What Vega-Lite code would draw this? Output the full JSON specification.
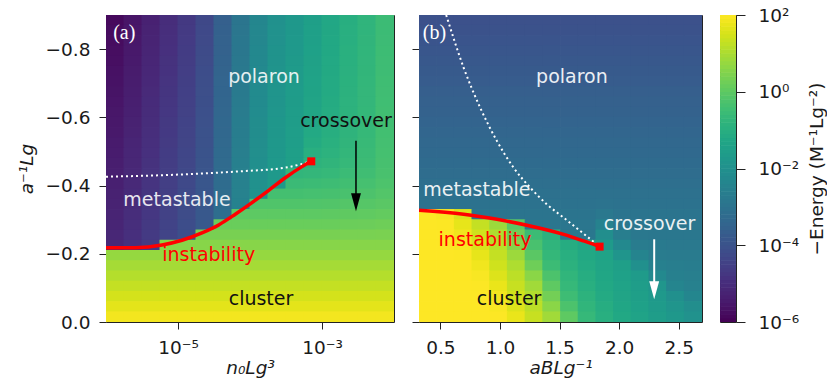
{
"$schema":"https://vega.github.io/schema/vega-lite/v6.json",
"background":"white",
"autosize":{"type":"pad"},
"padding":{"left":16,"top":5,"right":0,"bottom":0},
"config":{"font":"DejaVu Sans","view":{"stroke":"#222","strokeWidth":1},
"axis":{"labelFont":"DejaVu Sans","labelFontSize":18.5,"labelColor":"#1a1a1a","titleFont":"DejaVu Sans","titleFontSize":18.5,"titleFontWeight":"normal","titleColor":"#1a1a1a","tickColor":"#222","tickSize":7,"tickWidth":1,"domain":false,"grid":false,"labelPadding":9},
"axisX":{"labelPadding":9,"titlePadding":2},
"axisY":{"titlePadding":9}},
"datasets":{
"ha":[
{"x":-5.875,"y":-0.885,"e":-5.83},{"x":-5.625,"y":-0.885,"e":-5.58},{"x":-5.375,"y":-0.885,"e":-5.29},{"x":-5.125,"y":-0.885,"e":-4.99},{"x":-4.875,"y":-0.885,"e":-4.69},{"x":-4.625,"y":-0.885,"e":-4.29},{"x":-4.375,"y":-0.885,"e":-3.59},{"x":-4.125,"y":-0.885,"e":-2.89},{"x":-3.875,"y":-0.885,"e":-2.34},{"x":-3.625,"y":-0.885,"e":-1.99},{"x":-3.375,"y":-0.885,"e":-1.74},{"x":-3.125,"y":-0.885,"e":-1.49},{"x":-2.875,"y":-0.885,"e":-1.24},{"x":-2.625,"y":-0.885,"e":-0.99},{"x":-2.375,"y":-0.885,"e":-0.79},{"x":-2.125,"y":-0.885,"e":-0.54},
{"x":-5.875,"y":-0.855,"e":-5.8},{"x":-5.625,"y":-0.855,"e":-5.55},{"x":-5.375,"y":-0.855,"e":-5.26},{"x":-5.125,"y":-0.855,"e":-4.96},{"x":-4.875,"y":-0.855,"e":-4.66},{"x":-4.625,"y":-0.855,"e":-4.26},{"x":-4.375,"y":-0.855,"e":-3.56},{"x":-4.125,"y":-0.855,"e":-2.87},{"x":-3.875,"y":-0.855,"e":-2.32},{"x":-3.625,"y":-0.855,"e":-1.97},{"x":-3.375,"y":-0.855,"e":-1.72},{"x":-3.125,"y":-0.855,"e":-1.47},{"x":-2.875,"y":-0.855,"e":-1.23},{"x":-2.625,"y":-0.855,"e":-0.98},{"x":-2.375,"y":-0.855,"e":-0.78},{"x":-2.125,"y":-0.855,"e":-0.53},
{"x":-5.875,"y":-0.825,"e":-5.77},{"x":-5.625,"y":-0.825,"e":-5.52},{"x":-5.375,"y":-0.825,"e":-5.23},{"x":-5.125,"y":-0.825,"e":-4.93},{"x":-4.875,"y":-0.825,"e":-4.63},{"x":-4.625,"y":-0.825,"e":-4.24},{"x":-4.375,"y":-0.825,"e":-3.54},{"x":-4.125,"y":-0.825,"e":-2.84},{"x":-3.875,"y":-0.825,"e":-2.3},{"x":-3.625,"y":-0.825,"e":-1.95},{"x":-3.375,"y":-0.825,"e":-1.7},{"x":-3.125,"y":-0.825,"e":-1.46},{"x":-2.875,"y":-0.825,"e":-1.21},{"x":-2.625,"y":-0.825,"e":-0.96},{"x":-2.375,"y":-0.825,"e":-0.77},{"x":-2.125,"y":-0.825,"e":-0.52},
{"x":-5.875,"y":-0.795,"e":-5.74},{"x":-5.625,"y":-0.795,"e":-5.49},{"x":-5.375,"y":-0.795,"e":-5.2},{"x":-5.125,"y":-0.795,"e":-4.9},{"x":-4.875,"y":-0.795,"e":-4.61},{"x":-4.625,"y":-0.795,"e":-4.21},{"x":-4.375,"y":-0.795,"e":-3.52},{"x":-4.125,"y":-0.795,"e":-2.82},{"x":-3.875,"y":-0.795,"e":-2.28},{"x":-3.625,"y":-0.795,"e":-1.93},{"x":-3.375,"y":-0.795,"e":-1.69},{"x":-3.125,"y":-0.795,"e":-1.44},{"x":-2.875,"y":-0.795,"e":-1.2},{"x":-2.625,"y":-0.795,"e":-0.95},{"x":-2.375,"y":-0.795,"e":-0.76},{"x":-2.125,"y":-0.795,"e":-0.51},
{"x":-5.875,"y":-0.765,"e":-5.7},{"x":-5.625,"y":-0.765,"e":-5.46},{"x":-5.375,"y":-0.765,"e":-5.17},{"x":-5.125,"y":-0.765,"e":-4.87},{"x":-4.875,"y":-0.765,"e":-4.58},{"x":-4.625,"y":-0.765,"e":-4.19},{"x":-4.375,"y":-0.765,"e":-3.49},{"x":-4.125,"y":-0.765,"e":-2.8},{"x":-3.875,"y":-0.765,"e":-2.26},{"x":-3.625,"y":-0.765,"e":-1.91},{"x":-3.375,"y":-0.765,"e":-1.67},{"x":-3.125,"y":-0.765,"e":-1.42},{"x":-2.875,"y":-0.765,"e":-1.18},{"x":-2.625,"y":-0.765,"e":-0.94},{"x":-2.375,"y":-0.765,"e":-0.74},{"x":-2.125,"y":-0.765,"e":-0.5},
{"x":-5.875,"y":-0.735,"e":-5.67},{"x":-5.625,"y":-0.735,"e":-5.43},{"x":-5.375,"y":-0.735,"e":-5.14},{"x":-5.125,"y":-0.735,"e":-4.85},{"x":-4.875,"y":-0.735,"e":-4.55},{"x":-4.625,"y":-0.735,"e":-4.16},{"x":-4.375,"y":-0.735,"e":-3.47},{"x":-4.125,"y":-0.735,"e":-2.78},{"x":-3.875,"y":-0.735,"e":-2.23},{"x":-3.625,"y":-0.735,"e":-1.89},{"x":-3.375,"y":-0.735,"e":-1.65},{"x":-3.125,"y":-0.735,"e":-1.41},{"x":-2.875,"y":-0.735,"e":-1.16},{"x":-2.625,"y":-0.735,"e":-0.92},{"x":-2.375,"y":-0.735,"e":-0.73},{"x":-2.125,"y":-0.735,"e":-0.49},
{"x":-5.875,"y":-0.705,"e":-5.64},{"x":-5.625,"y":-0.705,"e":-5.4},{"x":-5.375,"y":-0.705,"e":-5.11},{"x":-5.125,"y":-0.705,"e":-4.82},{"x":-4.875,"y":-0.705,"e":-4.53},{"x":-4.625,"y":-0.705,"e":-4.14},{"x":-4.375,"y":-0.705,"e":-3.44},{"x":-4.125,"y":-0.705,"e":-2.75},{"x":-3.875,"y":-0.705,"e":-2.21},{"x":-3.625,"y":-0.705,"e":-1.87},{"x":-3.375,"y":-0.705,"e":-1.63},{"x":-3.125,"y":-0.705,"e":-1.38},{"x":-2.875,"y":-0.705,"e":-1.14},{"x":-2.625,"y":-0.705,"e":-0.91},{"x":-2.375,"y":-0.705,"e":-0.72},{"x":-2.125,"y":-0.705,"e":-0.48},
{"x":-5.875,"y":-0.675,"e":-5.61},{"x":-5.625,"y":-0.675,"e":-5.37},{"x":-5.375,"y":-0.675,"e":-5.08},{"x":-5.125,"y":-0.675,"e":-4.79},{"x":-4.875,"y":-0.675,"e":-4.5},{"x":-4.625,"y":-0.675,"e":-4.11},{"x":-4.375,"y":-0.675,"e":-3.42},{"x":-4.125,"y":-0.675,"e":-2.73},{"x":-3.875,"y":-0.675,"e":-2.19},{"x":-3.625,"y":-0.675,"e":-1.85},{"x":-3.375,"y":-0.675,"e":-1.61},{"x":-3.125,"y":-0.675,"e":-1.36},{"x":-2.875,"y":-0.675,"e":-1.12},{"x":-2.625,"y":-0.675,"e":-0.89},{"x":-2.375,"y":-0.675,"e":-0.7},{"x":-2.125,"y":-0.675,"e":-0.46},
{"x":-5.875,"y":-0.645,"e":-5.57},{"x":-5.625,"y":-0.645,"e":-5.34},{"x":-5.375,"y":-0.645,"e":-5.05},{"x":-5.125,"y":-0.645,"e":-4.76},{"x":-4.875,"y":-0.645,"e":-4.47},{"x":-4.625,"y":-0.645,"e":-4.09},{"x":-4.375,"y":-0.645,"e":-3.4},{"x":-4.125,"y":-0.645,"e":-2.71},{"x":-3.875,"y":-0.645,"e":-2.17},{"x":-3.625,"y":-0.645,"e":-1.83},{"x":-3.375,"y":-0.645,"e":-1.59},{"x":-3.125,"y":-0.645,"e":-1.33},{"x":-2.875,"y":-0.645,"e":-1.1},{"x":-2.625,"y":-0.645,"e":-0.87},{"x":-2.375,"y":-0.645,"e":-0.69},{"x":-2.125,"y":-0.645,"e":-0.45},
{"x":-5.875,"y":-0.615,"e":-5.54},{"x":-5.625,"y":-0.615,"e":-5.31},{"x":-5.375,"y":-0.615,"e":-5.02},{"x":-5.125,"y":-0.615,"e":-4.73},{"x":-4.875,"y":-0.615,"e":-4.45},{"x":-4.625,"y":-0.615,"e":-4.06},{"x":-4.375,"y":-0.615,"e":-3.37},{"x":-4.125,"y":-0.615,"e":-2.69},{"x":-3.875,"y":-0.615,"e":-2.15},{"x":-3.625,"y":-0.615,"e":-1.81},{"x":-3.375,"y":-0.615,"e":-1.58},{"x":-3.125,"y":-0.615,"e":-1.29},{"x":-2.875,"y":-0.615,"e":-1.08},{"x":-2.625,"y":-0.615,"e":-0.86},{"x":-2.375,"y":-0.615,"e":-0.68},{"x":-2.125,"y":-0.615,"e":-0.44},
{"x":-5.875,"y":-0.585,"e":-5.51},{"x":-5.625,"y":-0.585,"e":-5.28},{"x":-5.375,"y":-0.585,"e":-4.99},{"x":-5.125,"y":-0.585,"e":-4.7},{"x":-4.875,"y":-0.585,"e":-4.42},{"x":-4.625,"y":-0.585,"e":-4.04},{"x":-4.375,"y":-0.585,"e":-3.35},{"x":-4.125,"y":-0.585,"e":-2.66},{"x":-3.875,"y":-0.585,"e":-2.13},{"x":-3.625,"y":-0.585,"e":-1.79},{"x":-3.375,"y":-0.585,"e":-1.56},{"x":-3.125,"y":-0.585,"e":-1.24},{"x":-2.875,"y":-0.585,"e":-1.05},{"x":-2.625,"y":-0.585,"e":-0.83},{"x":-2.375,"y":-0.585,"e":-0.66},{"x":-2.125,"y":-0.585,"e":-0.43},
{"x":-5.875,"y":-0.555,"e":-5.48},{"x":-5.625,"y":-0.555,"e":-5.25},{"x":-5.375,"y":-0.555,"e":-4.96},{"x":-5.125,"y":-0.555,"e":-4.68},{"x":-4.875,"y":-0.555,"e":-4.39},{"x":-4.625,"y":-0.555,"e":-4.01},{"x":-4.375,"y":-0.555,"e":-3.32},{"x":-4.125,"y":-0.555,"e":-2.64},{"x":-3.875,"y":-0.555,"e":-2.11},{"x":-3.625,"y":-0.555,"e":-1.77},{"x":-3.375,"y":-0.555,"e":-1.54},{"x":-3.125,"y":-0.555,"e":-1.18},{"x":-2.875,"y":-0.555,"e":-1.0},{"x":-2.625,"y":-0.555,"e":-0.81},{"x":-2.375,"y":-0.555,"e":-0.64},{"x":-2.125,"y":-0.555,"e":-0.41},
{"x":-5.875,"y":-0.525,"e":-5.45},{"x":-5.625,"y":-0.525,"e":-5.21},{"x":-5.375,"y":-0.525,"e":-4.93},{"x":-5.125,"y":-0.525,"e":-4.65},{"x":-4.875,"y":-0.525,"e":-4.37},{"x":-4.625,"y":-0.525,"e":-3.99},{"x":-4.375,"y":-0.525,"e":-3.3},{"x":-4.125,"y":-0.525,"e":-2.62},{"x":-3.875,"y":-0.525,"e":-2.09},{"x":-3.625,"y":-0.525,"e":-1.75},{"x":-3.375,"y":-0.525,"e":-1.52},{"x":-3.125,"y":-0.525,"e":-1.09},{"x":-2.875,"y":-0.525,"e":-0.95},{"x":-2.625,"y":-0.525,"e":-0.77},{"x":-2.375,"y":-0.525,"e":-0.61},{"x":-2.125,"y":-0.525,"e":-0.39},
{"x":-5.875,"y":-0.495,"e":-5.41},{"x":-5.625,"y":-0.495,"e":-5.18},{"x":-5.375,"y":-0.495,"e":-4.9},{"x":-5.125,"y":-0.495,"e":-4.62},{"x":-4.875,"y":-0.495,"e":-4.34},{"x":-4.625,"y":-0.495,"e":-3.96},{"x":-4.375,"y":-0.495,"e":-3.28},{"x":-4.125,"y":-0.495,"e":-2.6},{"x":-3.875,"y":-0.495,"e":-2.07},{"x":-3.625,"y":-0.495,"e":-1.73},{"x":-3.375,"y":-0.495,"e":-1.5},{"x":-3.125,"y":-0.495,"e":-0.98},{"x":-2.875,"y":-0.495,"e":-0.87},{"x":-2.625,"y":-0.495,"e":-0.72},{"x":-2.375,"y":-0.495,"e":-0.58},{"x":-2.125,"y":-0.495,"e":-0.37},
{"x":-5.875,"y":-0.465,"e":-5.38},{"x":-5.625,"y":-0.465,"e":-5.15},{"x":-5.375,"y":-0.465,"e":-4.87},{"x":-5.125,"y":-0.465,"e":-4.59},{"x":-4.875,"y":-0.465,"e":-4.31},{"x":-4.625,"y":-0.465,"e":-3.94},{"x":-4.375,"y":-0.465,"e":-3.25},{"x":-4.125,"y":-0.465,"e":-2.57},{"x":-3.875,"y":-0.465,"e":-2.05},{"x":-3.625,"y":-0.465,"e":-1.71},{"x":-3.375,"y":-0.465,"e":-1.49},{"x":-3.125,"y":-0.465,"e":-0.84},{"x":-2.875,"y":-0.465,"e":-0.77},{"x":-2.625,"y":-0.465,"e":-0.65},{"x":-2.375,"y":-0.465,"e":-0.53},{"x":-2.125,"y":-0.465,"e":-0.34},
{"x":-5.875,"y":-0.435,"e":-5.35},{"x":-5.625,"y":-0.435,"e":-5.12},{"x":-5.375,"y":-0.435,"e":-4.84},{"x":-5.125,"y":-0.435,"e":-4.56},{"x":-4.875,"y":-0.435,"e":-4.29},{"x":-4.625,"y":-0.435,"e":-3.91},{"x":-4.375,"y":-0.435,"e":-3.23},{"x":-4.125,"y":-0.435,"e":-2.55},{"x":-3.875,"y":-0.435,"e":-2.02},{"x":-3.625,"y":-0.435,"e":-1.69},{"x":-3.375,"y":-0.435,"e":-0.75},{"x":-3.125,"y":-0.435,"e":-0.69},{"x":-2.875,"y":-0.435,"e":-0.65},{"x":-2.625,"y":-0.435,"e":-0.55},{"x":-2.375,"y":-0.435,"e":-0.46},{"x":-2.125,"y":-0.435,"e":-0.3},
{"x":-5.875,"y":-0.405,"e":-5.32},{"x":-5.625,"y":-0.405,"e":-5.09},{"x":-5.375,"y":-0.405,"e":-4.82},{"x":-5.125,"y":-0.405,"e":-4.54},{"x":-4.875,"y":-0.405,"e":-4.26},{"x":-4.625,"y":-0.405,"e":-3.88},{"x":-4.375,"y":-0.405,"e":-3.2},{"x":-4.125,"y":-0.405,"e":-2.53},{"x":-3.875,"y":-0.405,"e":-2.0},{"x":-3.625,"y":-0.405,"e":-1.67},{"x":-3.375,"y":-0.405,"e":-0.56},{"x":-3.125,"y":-0.405,"e":-0.53},{"x":-2.875,"y":-0.405,"e":-0.5},{"x":-2.625,"y":-0.405,"e":-0.44},{"x":-2.375,"y":-0.405,"e":-0.36},{"x":-2.125,"y":-0.405,"e":-0.24},
{"x":-5.875,"y":-0.375,"e":-5.28},{"x":-5.625,"y":-0.375,"e":-5.06},{"x":-5.375,"y":-0.375,"e":-4.79},{"x":-5.125,"y":-0.375,"e":-4.51},{"x":-4.875,"y":-0.375,"e":-4.23},{"x":-4.625,"y":-0.375,"e":-3.86},{"x":-4.375,"y":-0.375,"e":-3.18},{"x":-4.125,"y":-0.375,"e":-2.51},{"x":-3.875,"y":-0.375,"e":-1.98},{"x":-3.625,"y":-0.375,"e":-0.38},{"x":-3.375,"y":-0.375,"e":-0.38},{"x":-3.125,"y":-0.375,"e":-0.36},{"x":-2.875,"y":-0.375,"e":-0.34},{"x":-2.625,"y":-0.375,"e":-0.3},{"x":-2.375,"y":-0.375,"e":-0.25},{"x":-2.125,"y":-0.375,"e":-0.15},
{"x":-5.875,"y":-0.345,"e":-5.25},{"x":-5.625,"y":-0.345,"e":-5.03},{"x":-5.375,"y":-0.345,"e":-4.76},{"x":-5.125,"y":-0.345,"e":-4.48},{"x":-4.875,"y":-0.345,"e":-4.21},{"x":-4.625,"y":-0.345,"e":-3.83},{"x":-4.375,"y":-0.345,"e":-3.16},{"x":-4.125,"y":-0.345,"e":-2.48},{"x":-3.875,"y":-0.345,"e":-0.19},{"x":-3.625,"y":-0.345,"e":-0.19},{"x":-3.375,"y":-0.345,"e":-0.19},{"x":-3.125,"y":-0.345,"e":-0.18},{"x":-2.875,"y":-0.345,"e":-0.17},{"x":-2.625,"y":-0.345,"e":-0.14},{"x":-2.375,"y":-0.345,"e":-0.11},{"x":-2.125,"y":-0.345,"e":-0.05},
{"x":-5.875,"y":-0.315,"e":-5.22},{"x":-5.625,"y":-0.315,"e":-5.0},{"x":-5.375,"y":-0.315,"e":-4.73},{"x":-5.125,"y":-0.315,"e":-4.45},{"x":-4.875,"y":-0.315,"e":-4.18},{"x":-4.625,"y":-0.315,"e":-3.81},{"x":-4.375,"y":-0.315,"e":-3.13},{"x":-4.125,"y":-0.315,"e":0.0},{"x":-3.875,"y":-0.315,"e":0.0},{"x":-3.625,"y":-0.315,"e":0.0},{"x":-3.375,"y":-0.315,"e":0.0},{"x":-3.125,"y":-0.315,"e":0.0},{"x":-2.875,"y":-0.315,"e":0.01},{"x":-2.625,"y":-0.315,"e":0.03},{"x":-2.375,"y":-0.315,"e":0.04},{"x":-2.125,"y":-0.315,"e":0.09},
{"x":-5.875,"y":-0.285,"e":-5.19},{"x":-5.625,"y":-0.285,"e":-4.97},{"x":-5.375,"y":-0.285,"e":-4.7},{"x":-5.125,"y":-0.285,"e":-4.42},{"x":-4.875,"y":-0.285,"e":-4.15},{"x":-4.625,"y":-0.285,"e":-3.78},{"x":-4.375,"y":-0.285,"e":0.18},{"x":-4.125,"y":-0.285,"e":0.18},{"x":-3.875,"y":-0.285,"e":0.18},{"x":-3.625,"y":-0.285,"e":0.18},{"x":-3.375,"y":-0.285,"e":0.18},{"x":-3.125,"y":-0.285,"e":0.18},{"x":-2.875,"y":-0.285,"e":0.18},{"x":-2.625,"y":-0.285,"e":0.2},{"x":-2.375,"y":-0.285,"e":0.21},{"x":-2.125,"y":-0.285,"e":0.24},
{"x":-5.875,"y":-0.255,"e":-5.15},{"x":-5.625,"y":-0.255,"e":-4.94},{"x":-5.375,"y":-0.255,"e":-4.67},{"x":-5.125,"y":-0.255,"e":-4.39},{"x":-4.875,"y":-0.255,"e":-4.13},{"x":-4.625,"y":-0.255,"e":0.37},{"x":-4.375,"y":-0.255,"e":0.37},{"x":-4.125,"y":-0.255,"e":0.37},{"x":-3.875,"y":-0.255,"e":0.37},{"x":-3.625,"y":-0.255,"e":0.37},{"x":-3.375,"y":-0.255,"e":0.37},{"x":-3.125,"y":-0.255,"e":0.37},{"x":-2.875,"y":-0.255,"e":0.37},{"x":-2.625,"y":-0.255,"e":0.38},{"x":-2.375,"y":-0.255,"e":0.38},{"x":-2.125,"y":-0.255,"e":0.4},
{"x":-5.875,"y":-0.225,"e":-5.12},{"x":-5.625,"y":-0.225,"e":-4.91},{"x":-5.375,"y":-0.225,"e":-4.64},{"x":-5.125,"y":-0.225,"e":0.56},{"x":-4.875,"y":-0.225,"e":0.56},{"x":-4.625,"y":-0.225,"e":0.56},{"x":-4.375,"y":-0.225,"e":0.56},{"x":-4.125,"y":-0.225,"e":0.56},{"x":-3.875,"y":-0.225,"e":0.56},{"x":-3.625,"y":-0.225,"e":0.56},{"x":-3.375,"y":-0.225,"e":0.56},{"x":-3.125,"y":-0.225,"e":0.56},{"x":-2.875,"y":-0.225,"e":0.56},{"x":-2.625,"y":-0.225,"e":0.56},{"x":-2.375,"y":-0.225,"e":0.56},{"x":-2.125,"y":-0.225,"e":0.57},
{"x":-5.875,"y":-0.195,"e":0.74},{"x":-5.625,"y":-0.195,"e":0.74},{"x":-5.375,"y":-0.195,"e":0.74},{"x":-5.125,"y":-0.195,"e":0.74},{"x":-4.875,"y":-0.195,"e":0.74},{"x":-4.625,"y":-0.195,"e":0.74},{"x":-4.375,"y":-0.195,"e":0.74},{"x":-4.125,"y":-0.195,"e":0.74},{"x":-3.875,"y":-0.195,"e":0.74},{"x":-3.625,"y":-0.195,"e":0.74},{"x":-3.375,"y":-0.195,"e":0.74},{"x":-3.125,"y":-0.195,"e":0.74},{"x":-2.875,"y":-0.195,"e":0.74},{"x":-2.625,"y":-0.195,"e":0.74},{"x":-2.375,"y":-0.195,"e":0.74},{"x":-2.125,"y":-0.195,"e":0.74},
{"x":-5.875,"y":-0.165,"e":0.93},{"x":-5.625,"y":-0.165,"e":0.93},{"x":-5.375,"y":-0.165,"e":0.93},{"x":-5.125,"y":-0.165,"e":0.93},{"x":-4.875,"y":-0.165,"e":0.93},{"x":-4.625,"y":-0.165,"e":0.93},{"x":-4.375,"y":-0.165,"e":0.93},{"x":-4.125,"y":-0.165,"e":0.93},{"x":-3.875,"y":-0.165,"e":0.93},{"x":-3.625,"y":-0.165,"e":0.93},{"x":-3.375,"y":-0.165,"e":0.93},{"x":-3.125,"y":-0.165,"e":0.93},{"x":-2.875,"y":-0.165,"e":0.93},{"x":-2.625,"y":-0.165,"e":0.93},{"x":-2.375,"y":-0.165,"e":0.93},{"x":-2.125,"y":-0.165,"e":0.93},
{"x":-5.875,"y":-0.135,"e":1.11},{"x":-5.625,"y":-0.135,"e":1.11},{"x":-5.375,"y":-0.135,"e":1.11},{"x":-5.125,"y":-0.135,"e":1.11},{"x":-4.875,"y":-0.135,"e":1.11},{"x":-4.625,"y":-0.135,"e":1.11},{"x":-4.375,"y":-0.135,"e":1.11},{"x":-4.125,"y":-0.135,"e":1.11},{"x":-3.875,"y":-0.135,"e":1.11},{"x":-3.625,"y":-0.135,"e":1.11},{"x":-3.375,"y":-0.135,"e":1.11},{"x":-3.125,"y":-0.135,"e":1.11},{"x":-2.875,"y":-0.135,"e":1.11},{"x":-2.625,"y":-0.135,"e":1.11},{"x":-2.375,"y":-0.135,"e":1.11},{"x":-2.125,"y":-0.135,"e":1.11},
{"x":-5.875,"y":-0.105,"e":1.3},{"x":-5.625,"y":-0.105,"e":1.3},{"x":-5.375,"y":-0.105,"e":1.3},{"x":-5.125,"y":-0.105,"e":1.3},{"x":-4.875,"y":-0.105,"e":1.3},{"x":-4.625,"y":-0.105,"e":1.3},{"x":-4.375,"y":-0.105,"e":1.3},{"x":-4.125,"y":-0.105,"e":1.3},{"x":-3.875,"y":-0.105,"e":1.3},{"x":-3.625,"y":-0.105,"e":1.3},{"x":-3.375,"y":-0.105,"e":1.3},{"x":-3.125,"y":-0.105,"e":1.3},{"x":-2.875,"y":-0.105,"e":1.3},{"x":-2.625,"y":-0.105,"e":1.3},{"x":-2.375,"y":-0.105,"e":1.3},{"x":-2.125,"y":-0.105,"e":1.3},
{"x":-5.875,"y":-0.075,"e":1.49},{"x":-5.625,"y":-0.075,"e":1.49},{"x":-5.375,"y":-0.075,"e":1.49},{"x":-5.125,"y":-0.075,"e":1.49},{"x":-4.875,"y":-0.075,"e":1.49},{"x":-4.625,"y":-0.075,"e":1.49},{"x":-4.375,"y":-0.075,"e":1.49},{"x":-4.125,"y":-0.075,"e":1.49},{"x":-3.875,"y":-0.075,"e":1.49},{"x":-3.625,"y":-0.075,"e":1.49},{"x":-3.375,"y":-0.075,"e":1.49},{"x":-3.125,"y":-0.075,"e":1.49},{"x":-2.875,"y":-0.075,"e":1.49},{"x":-2.625,"y":-0.075,"e":1.49},{"x":-2.375,"y":-0.075,"e":1.49},{"x":-2.125,"y":-0.075,"e":1.49},
{"x":-5.875,"y":-0.045,"e":1.67},{"x":-5.625,"y":-0.045,"e":1.67},{"x":-5.375,"y":-0.045,"e":1.67},{"x":-5.125,"y":-0.045,"e":1.67},{"x":-4.875,"y":-0.045,"e":1.67},{"x":-4.625,"y":-0.045,"e":1.67},{"x":-4.375,"y":-0.045,"e":1.67},{"x":-4.125,"y":-0.045,"e":1.67},{"x":-3.875,"y":-0.045,"e":1.67},{"x":-3.625,"y":-0.045,"e":1.67},{"x":-3.375,"y":-0.045,"e":1.67},{"x":-3.125,"y":-0.045,"e":1.67},{"x":-2.875,"y":-0.045,"e":1.67},{"x":-2.625,"y":-0.045,"e":1.67},{"x":-2.375,"y":-0.045,"e":1.67},{"x":-2.125,"y":-0.045,"e":1.67},
{"x":-5.875,"y":-0.015,"e":1.86},{"x":-5.625,"y":-0.015,"e":1.86},{"x":-5.375,"y":-0.015,"e":1.86},{"x":-5.125,"y":-0.015,"e":1.86},{"x":-4.875,"y":-0.015,"e":1.86},{"x":-4.625,"y":-0.015,"e":1.86},{"x":-4.375,"y":-0.015,"e":1.86},{"x":-4.125,"y":-0.015,"e":1.86},{"x":-3.875,"y":-0.015,"e":1.86},{"x":-3.625,"y":-0.015,"e":1.86},{"x":-3.375,"y":-0.015,"e":1.86},{"x":-3.125,"y":-0.015,"e":1.86},{"x":-2.875,"y":-0.015,"e":1.86},{"x":-2.625,"y":-0.015,"e":1.86},{"x":-2.375,"y":-0.015,"e":1.86},{"x":-2.125,"y":-0.015,"e":1.86}
],
"hb":[
{"x":0.394,"y":-0.885,"e":-4.05},{"x":0.543,"y":-0.885,"e":-4.05},{"x":0.691,"y":-0.885,"e":-4.05},{"x":0.839,"y":-0.885,"e":-4.05},{"x":0.988,"y":-0.885,"e":-4.05},{"x":1.136,"y":-0.885,"e":-4.05},{"x":1.285,"y":-0.885,"e":-4.05},{"x":1.433,"y":-0.885,"e":-4.05},{"x":1.582,"y":-0.885,"e":-4.05},{"x":1.73,"y":-0.885,"e":-4.05},{"x":1.879,"y":-0.885,"e":-4.05},{"x":2.027,"y":-0.885,"e":-4.05},{"x":2.175,"y":-0.885,"e":-4.05},{"x":2.324,"y":-0.885,"e":-4.05},{"x":2.472,"y":-0.885,"e":-4.05},{"x":2.621,"y":-0.885,"e":-4.05},
{"x":0.394,"y":-0.855,"e":-3.99},{"x":0.543,"y":-0.855,"e":-3.99},{"x":0.691,"y":-0.855,"e":-3.99},{"x":0.839,"y":-0.855,"e":-3.99},{"x":0.988,"y":-0.855,"e":-3.99},{"x":1.136,"y":-0.855,"e":-3.99},{"x":1.285,"y":-0.855,"e":-3.99},{"x":1.433,"y":-0.855,"e":-3.99},{"x":1.582,"y":-0.855,"e":-3.99},{"x":1.73,"y":-0.855,"e":-3.99},{"x":1.879,"y":-0.855,"e":-3.99},{"x":2.027,"y":-0.855,"e":-3.99},{"x":2.175,"y":-0.855,"e":-3.99},{"x":2.324,"y":-0.855,"e":-3.99},{"x":2.472,"y":-0.855,"e":-3.99},{"x":2.621,"y":-0.855,"e":-3.99},
{"x":0.394,"y":-0.825,"e":-3.93},{"x":0.543,"y":-0.825,"e":-3.93},{"x":0.691,"y":-0.825,"e":-3.93},{"x":0.839,"y":-0.825,"e":-3.93},{"x":0.988,"y":-0.825,"e":-3.93},{"x":1.136,"y":-0.825,"e":-3.93},{"x":1.285,"y":-0.825,"e":-3.93},{"x":1.433,"y":-0.825,"e":-3.93},{"x":1.582,"y":-0.825,"e":-3.93},{"x":1.73,"y":-0.825,"e":-3.93},{"x":1.879,"y":-0.825,"e":-3.93},{"x":2.027,"y":-0.825,"e":-3.93},{"x":2.175,"y":-0.825,"e":-3.93},{"x":2.324,"y":-0.825,"e":-3.93},{"x":2.472,"y":-0.825,"e":-3.93},{"x":2.621,"y":-0.825,"e":-3.93},
{"x":0.394,"y":-0.795,"e":-3.87},{"x":0.543,"y":-0.795,"e":-3.87},{"x":0.691,"y":-0.795,"e":-3.87},{"x":0.839,"y":-0.795,"e":-3.87},{"x":0.988,"y":-0.795,"e":-3.87},{"x":1.136,"y":-0.795,"e":-3.87},{"x":1.285,"y":-0.795,"e":-3.87},{"x":1.433,"y":-0.795,"e":-3.87},{"x":1.582,"y":-0.795,"e":-3.87},{"x":1.73,"y":-0.795,"e":-3.87},{"x":1.879,"y":-0.795,"e":-3.87},{"x":2.027,"y":-0.795,"e":-3.87},{"x":2.175,"y":-0.795,"e":-3.87},{"x":2.324,"y":-0.795,"e":-3.87},{"x":2.472,"y":-0.795,"e":-3.87},{"x":2.621,"y":-0.795,"e":-3.87},
{"x":0.394,"y":-0.765,"e":-3.82},{"x":0.543,"y":-0.765,"e":-3.82},{"x":0.691,"y":-0.765,"e":-3.82},{"x":0.839,"y":-0.765,"e":-3.82},{"x":0.988,"y":-0.765,"e":-3.82},{"x":1.136,"y":-0.765,"e":-3.82},{"x":1.285,"y":-0.765,"e":-3.82},{"x":1.433,"y":-0.765,"e":-3.82},{"x":1.582,"y":-0.765,"e":-3.82},{"x":1.73,"y":-0.765,"e":-3.82},{"x":1.879,"y":-0.765,"e":-3.82},{"x":2.027,"y":-0.765,"e":-3.82},{"x":2.175,"y":-0.765,"e":-3.82},{"x":2.324,"y":-0.765,"e":-3.82},{"x":2.472,"y":-0.765,"e":-3.82},{"x":2.621,"y":-0.765,"e":-3.82},
{"x":0.394,"y":-0.735,"e":-3.76},{"x":0.543,"y":-0.735,"e":-3.76},{"x":0.691,"y":-0.735,"e":-3.76},{"x":0.839,"y":-0.735,"e":-3.76},{"x":0.988,"y":-0.735,"e":-3.76},{"x":1.136,"y":-0.735,"e":-3.76},{"x":1.285,"y":-0.735,"e":-3.76},{"x":1.433,"y":-0.735,"e":-3.76},{"x":1.582,"y":-0.735,"e":-3.76},{"x":1.73,"y":-0.735,"e":-3.76},{"x":1.879,"y":-0.735,"e":-3.76},{"x":2.027,"y":-0.735,"e":-3.76},{"x":2.175,"y":-0.735,"e":-3.76},{"x":2.324,"y":-0.735,"e":-3.76},{"x":2.472,"y":-0.735,"e":-3.76},{"x":2.621,"y":-0.735,"e":-3.76},
{"x":0.394,"y":-0.705,"e":-3.7},{"x":0.543,"y":-0.705,"e":-3.7},{"x":0.691,"y":-0.705,"e":-3.7},{"x":0.839,"y":-0.705,"e":-3.7},{"x":0.988,"y":-0.705,"e":-3.7},{"x":1.136,"y":-0.705,"e":-3.7},{"x":1.285,"y":-0.705,"e":-3.7},{"x":1.433,"y":-0.705,"e":-3.7},{"x":1.582,"y":-0.705,"e":-3.7},{"x":1.73,"y":-0.705,"e":-3.7},{"x":1.879,"y":-0.705,"e":-3.7},{"x":2.027,"y":-0.705,"e":-3.7},{"x":2.175,"y":-0.705,"e":-3.7},{"x":2.324,"y":-0.705,"e":-3.7},{"x":2.472,"y":-0.705,"e":-3.7},{"x":2.621,"y":-0.705,"e":-3.7},
{"x":0.394,"y":-0.675,"e":-3.64},{"x":0.543,"y":-0.675,"e":-3.64},{"x":0.691,"y":-0.675,"e":-3.64},{"x":0.839,"y":-0.675,"e":-3.64},{"x":0.988,"y":-0.675,"e":-3.64},{"x":1.136,"y":-0.675,"e":-3.64},{"x":1.285,"y":-0.675,"e":-3.64},{"x":1.433,"y":-0.675,"e":-3.64},{"x":1.582,"y":-0.675,"e":-3.64},{"x":1.73,"y":-0.675,"e":-3.64},{"x":1.879,"y":-0.675,"e":-3.64},{"x":2.027,"y":-0.675,"e":-3.64},{"x":2.175,"y":-0.675,"e":-3.64},{"x":2.324,"y":-0.675,"e":-3.64},{"x":2.472,"y":-0.675,"e":-3.64},{"x":2.621,"y":-0.675,"e":-3.64},
{"x":0.394,"y":-0.645,"e":-3.58},{"x":0.543,"y":-0.645,"e":-3.58},{"x":0.691,"y":-0.645,"e":-3.58},{"x":0.839,"y":-0.645,"e":-3.58},{"x":0.988,"y":-0.645,"e":-3.58},{"x":1.136,"y":-0.645,"e":-3.58},{"x":1.285,"y":-0.645,"e":-3.58},{"x":1.433,"y":-0.645,"e":-3.58},{"x":1.582,"y":-0.645,"e":-3.58},{"x":1.73,"y":-0.645,"e":-3.58},{"x":1.879,"y":-0.645,"e":-3.58},{"x":2.027,"y":-0.645,"e":-3.58},{"x":2.175,"y":-0.645,"e":-3.58},{"x":2.324,"y":-0.645,"e":-3.58},{"x":2.472,"y":-0.645,"e":-3.58},{"x":2.621,"y":-0.645,"e":-3.58},
{"x":0.394,"y":-0.615,"e":-3.52},{"x":0.543,"y":-0.615,"e":-3.52},{"x":0.691,"y":-0.615,"e":-3.52},{"x":0.839,"y":-0.615,"e":-3.52},{"x":0.988,"y":-0.615,"e":-3.52},{"x":1.136,"y":-0.615,"e":-3.52},{"x":1.285,"y":-0.615,"e":-3.52},{"x":1.433,"y":-0.615,"e":-3.52},{"x":1.582,"y":-0.615,"e":-3.52},{"x":1.73,"y":-0.615,"e":-3.52},{"x":1.879,"y":-0.615,"e":-3.52},{"x":2.027,"y":-0.615,"e":-3.52},{"x":2.175,"y":-0.615,"e":-3.52},{"x":2.324,"y":-0.615,"e":-3.52},{"x":2.472,"y":-0.615,"e":-3.52},{"x":2.621,"y":-0.615,"e":-3.52},
{"x":0.394,"y":-0.585,"e":-3.46},{"x":0.543,"y":-0.585,"e":-3.46},{"x":0.691,"y":-0.585,"e":-3.46},{"x":0.839,"y":-0.585,"e":-3.46},{"x":0.988,"y":-0.585,"e":-3.46},{"x":1.136,"y":-0.585,"e":-3.46},{"x":1.285,"y":-0.585,"e":-3.46},{"x":1.433,"y":-0.585,"e":-3.46},{"x":1.582,"y":-0.585,"e":-3.46},{"x":1.73,"y":-0.585,"e":-3.46},{"x":1.879,"y":-0.585,"e":-3.46},{"x":2.027,"y":-0.585,"e":-3.46},{"x":2.175,"y":-0.585,"e":-3.46},{"x":2.324,"y":-0.585,"e":-3.46},{"x":2.472,"y":-0.585,"e":-3.46},{"x":2.621,"y":-0.585,"e":-3.46},
{"x":0.394,"y":-0.555,"e":-3.4},{"x":0.543,"y":-0.555,"e":-3.4},{"x":0.691,"y":-0.555,"e":-3.4},{"x":0.839,"y":-0.555,"e":-3.4},{"x":0.988,"y":-0.555,"e":-3.4},{"x":1.136,"y":-0.555,"e":-3.4},{"x":1.285,"y":-0.555,"e":-3.4},{"x":1.433,"y":-0.555,"e":-3.4},{"x":1.582,"y":-0.555,"e":-3.4},{"x":1.73,"y":-0.555,"e":-3.4},{"x":1.879,"y":-0.555,"e":-3.4},{"x":2.027,"y":-0.555,"e":-3.4},{"x":2.175,"y":-0.555,"e":-3.4},{"x":2.324,"y":-0.555,"e":-3.4},{"x":2.472,"y":-0.555,"e":-3.4},{"x":2.621,"y":-0.555,"e":-3.4},
{"x":0.394,"y":-0.525,"e":-3.34},{"x":0.543,"y":-0.525,"e":-3.34},{"x":0.691,"y":-0.525,"e":-3.34},{"x":0.839,"y":-0.525,"e":-3.34},{"x":0.988,"y":-0.525,"e":-3.34},{"x":1.136,"y":-0.525,"e":-3.34},{"x":1.285,"y":-0.525,"e":-3.34},{"x":1.433,"y":-0.525,"e":-3.34},{"x":1.582,"y":-0.525,"e":-3.34},{"x":1.73,"y":-0.525,"e":-3.34},{"x":1.879,"y":-0.525,"e":-3.34},{"x":2.027,"y":-0.525,"e":-3.34},{"x":2.175,"y":-0.525,"e":-3.34},{"x":2.324,"y":-0.525,"e":-3.34},{"x":2.472,"y":-0.525,"e":-3.34},{"x":2.621,"y":-0.525,"e":-3.34},
{"x":0.394,"y":-0.495,"e":-3.29},{"x":0.543,"y":-0.495,"e":-3.29},{"x":0.691,"y":-0.495,"e":-3.29},{"x":0.839,"y":-0.495,"e":-3.29},{"x":0.988,"y":-0.495,"e":-3.29},{"x":1.136,"y":-0.495,"e":-3.29},{"x":1.285,"y":-0.495,"e":-3.29},{"x":1.433,"y":-0.495,"e":-3.29},{"x":1.582,"y":-0.495,"e":-3.29},{"x":1.73,"y":-0.495,"e":-3.29},{"x":1.879,"y":-0.495,"e":-3.29},{"x":2.027,"y":-0.495,"e":-3.29},{"x":2.175,"y":-0.495,"e":-3.29},{"x":2.324,"y":-0.495,"e":-3.29},{"x":2.472,"y":-0.495,"e":-3.29},{"x":2.621,"y":-0.495,"e":-3.29},
{"x":0.394,"y":-0.465,"e":-3.23},{"x":0.543,"y":-0.465,"e":-3.23},{"x":0.691,"y":-0.465,"e":-3.23},{"x":0.839,"y":-0.465,"e":-3.23},{"x":0.988,"y":-0.465,"e":-3.23},{"x":1.136,"y":-0.465,"e":-3.23},{"x":1.285,"y":-0.465,"e":-3.23},{"x":1.433,"y":-0.465,"e":-3.23},{"x":1.582,"y":-0.465,"e":-3.23},{"x":1.73,"y":-0.465,"e":-3.23},{"x":1.879,"y":-0.465,"e":-3.23},{"x":2.027,"y":-0.465,"e":-3.23},{"x":2.175,"y":-0.465,"e":-3.23},{"x":2.324,"y":-0.465,"e":-3.23},{"x":2.472,"y":-0.465,"e":-3.23},{"x":2.621,"y":-0.465,"e":-3.23},
{"x":0.394,"y":-0.435,"e":-3.17},{"x":0.543,"y":-0.435,"e":-3.17},{"x":0.691,"y":-0.435,"e":-3.17},{"x":0.839,"y":-0.435,"e":-3.17},{"x":0.988,"y":-0.435,"e":-3.17},{"x":1.136,"y":-0.435,"e":-3.17},{"x":1.285,"y":-0.435,"e":-3.17},{"x":1.433,"y":-0.435,"e":-3.17},{"x":1.582,"y":-0.435,"e":-3.17},{"x":1.73,"y":-0.435,"e":-3.17},{"x":1.879,"y":-0.435,"e":-3.17},{"x":2.027,"y":-0.435,"e":-3.17},{"x":2.175,"y":-0.435,"e":-3.17},{"x":2.324,"y":-0.435,"e":-3.17},{"x":2.472,"y":-0.435,"e":-3.17},{"x":2.621,"y":-0.435,"e":-3.17},
{"x":0.394,"y":-0.405,"e":-3.11},{"x":0.543,"y":-0.405,"e":-3.11},{"x":0.691,"y":-0.405,"e":-3.11},{"x":0.839,"y":-0.405,"e":-3.11},{"x":0.988,"y":-0.405,"e":-3.11},{"x":1.136,"y":-0.405,"e":-3.11},{"x":1.285,"y":-0.405,"e":-3.11},{"x":1.433,"y":-0.405,"e":-3.11},{"x":1.582,"y":-0.405,"e":-3.11},{"x":1.73,"y":-0.405,"e":-3.11},{"x":1.879,"y":-0.405,"e":-3.11},{"x":2.027,"y":-0.405,"e":-3.11},{"x":2.175,"y":-0.405,"e":-3.11},{"x":2.324,"y":-0.405,"e":-3.11},{"x":2.472,"y":-0.405,"e":-3.11},{"x":2.621,"y":-0.405,"e":-3.11},
{"x":0.394,"y":-0.375,"e":-3.05},{"x":0.543,"y":-0.375,"e":-3.05},{"x":0.691,"y":-0.375,"e":-3.05},{"x":0.839,"y":-0.375,"e":-3.05},{"x":0.988,"y":-0.375,"e":-3.05},{"x":1.136,"y":-0.375,"e":-3.05},{"x":1.285,"y":-0.375,"e":-3.05},{"x":1.433,"y":-0.375,"e":-3.05},{"x":1.582,"y":-0.375,"e":-3.05},{"x":1.73,"y":-0.375,"e":-3.05},{"x":1.879,"y":-0.375,"e":-3.04},{"x":2.027,"y":-0.375,"e":-3.05},{"x":2.175,"y":-0.375,"e":-3.05},{"x":2.324,"y":-0.375,"e":-3.05},{"x":2.472,"y":-0.375,"e":-3.05},{"x":2.621,"y":-0.375,"e":-3.05},
{"x":0.394,"y":-0.345,"e":-2.99},{"x":0.543,"y":-0.345,"e":-2.99},{"x":0.691,"y":-0.345,"e":-2.99},{"x":0.839,"y":-0.345,"e":-2.99},{"x":0.988,"y":-0.345,"e":-2.99},{"x":1.136,"y":-0.345,"e":-2.99},{"x":1.285,"y":-0.345,"e":-2.99},{"x":1.433,"y":-0.345,"e":-2.99},{"x":1.582,"y":-0.345,"e":-2.99},{"x":1.73,"y":-0.345,"e":-2.99},{"x":1.879,"y":-0.345,"e":-2.96},{"x":2.027,"y":-0.345,"e":-2.99},{"x":2.175,"y":-0.345,"e":-2.99},{"x":2.324,"y":-0.345,"e":-2.99},{"x":2.472,"y":-0.345,"e":-2.99},{"x":2.621,"y":-0.345,"e":-2.99},
{"x":0.394,"y":-0.315,"e":2.0},{"x":0.543,"y":-0.315,"e":1.93},{"x":0.691,"y":-0.315,"e":1.56},{"x":0.839,"y":-0.315,"e":-2.93},{"x":0.988,"y":-0.315,"e":-2.93},{"x":1.136,"y":-0.315,"e":-2.93},{"x":1.285,"y":-0.315,"e":-2.93},{"x":1.433,"y":-0.315,"e":-2.93},{"x":1.582,"y":-0.315,"e":-2.93},{"x":1.73,"y":-0.315,"e":-2.93},{"x":1.879,"y":-0.315,"e":-2.79},{"x":2.027,"y":-0.315,"e":-2.92},{"x":2.175,"y":-0.315,"e":-2.93},{"x":2.324,"y":-0.315,"e":-2.93},{"x":2.472,"y":-0.315,"e":-2.93},{"x":2.621,"y":-0.315,"e":-2.93},
{"x":0.394,"y":-0.285,"e":2.0},{"x":0.543,"y":-0.285,"e":1.98},{"x":0.691,"y":-0.285,"e":1.71},{"x":0.839,"y":-0.285,"e":1.3},{"x":0.988,"y":-0.285,"e":0.82},{"x":1.136,"y":-0.285,"e":-0.04},{"x":1.285,"y":-0.285,"e":-2.87},{"x":1.433,"y":-0.285,"e":-2.87},{"x":1.582,"y":-0.285,"e":-2.87},{"x":1.73,"y":-0.285,"e":-2.87},{"x":1.879,"y":-0.285,"e":-2.48},{"x":2.027,"y":-0.285,"e":-2.83},{"x":2.175,"y":-0.285,"e":-2.87},{"x":2.324,"y":-0.285,"e":-2.87},{"x":2.472,"y":-0.285,"e":-2.87},{"x":2.621,"y":-0.285,"e":-2.87},
{"x":0.394,"y":-0.255,"e":2.0},{"x":0.543,"y":-0.255,"e":2.0},{"x":0.691,"y":-0.255,"e":1.84},{"x":0.839,"y":-0.255,"e":1.43},{"x":0.988,"y":-0.255,"e":1.04},{"x":1.136,"y":-0.255,"e":0.24},{"x":1.285,"y":-0.255,"e":-0.53},{"x":1.433,"y":-0.255,"e":-0.88},{"x":1.582,"y":-0.255,"e":-2.82},{"x":1.73,"y":-0.255,"e":-2.82},{"x":1.879,"y":-0.255,"e":-2.08},{"x":2.027,"y":-0.255,"e":-2.62},{"x":2.175,"y":-0.255,"e":-2.81},{"x":2.324,"y":-0.255,"e":-2.82},{"x":2.472,"y":-0.255,"e":-2.82},{"x":2.621,"y":-0.255,"e":-2.82},
{"x":0.394,"y":-0.225,"e":2.0},{"x":0.543,"y":-0.225,"e":2.0},{"x":0.691,"y":-0.225,"e":1.93},{"x":0.839,"y":-0.225,"e":1.56},{"x":0.988,"y":-0.225,"e":1.17},{"x":1.136,"y":-0.225,"e":0.54},{"x":1.285,"y":-0.225,"e":-0.31},{"x":1.433,"y":-0.225,"e":-0.78},{"x":1.582,"y":-0.225,"e":-1.06},{"x":1.73,"y":-0.225,"e":-1.27},{"x":1.879,"y":-0.225,"e":-1.66},{"x":2.027,"y":-0.225,"e":-2.24},{"x":2.175,"y":-0.225,"e":-2.69},{"x":2.324,"y":-0.225,"e":-2.75},{"x":2.472,"y":-0.225,"e":-2.76},{"x":2.621,"y":-0.225,"e":-2.76},
{"x":0.394,"y":-0.195,"e":2.0},{"x":0.543,"y":-0.195,"e":2.0},{"x":0.691,"y":-0.195,"e":1.98},{"x":0.839,"y":-0.195,"e":1.71},{"x":0.988,"y":-0.195,"e":1.3},{"x":1.136,"y":-0.195,"e":0.82},{"x":1.285,"y":-0.195,"e":-0.04},{"x":1.433,"y":-0.195,"e":-0.68},{"x":1.582,"y":-0.195,"e":-0.97},{"x":1.73,"y":-0.195,"e":-1.2},{"x":1.879,"y":-0.195,"e":-1.38},{"x":2.027,"y":-0.195,"e":-1.84},{"x":2.175,"y":-0.195,"e":-2.42},{"x":2.324,"y":-0.195,"e":-2.68},{"x":2.472,"y":-0.195,"e":-2.7},{"x":2.621,"y":-0.195,"e":-2.7},
{"x":0.394,"y":-0.165,"e":2.0},{"x":0.543,"y":-0.165,"e":2.0},{"x":0.691,"y":-0.165,"e":2.0},{"x":0.839,"y":-0.165,"e":1.84},{"x":0.988,"y":-0.165,"e":1.43},{"x":1.136,"y":-0.165,"e":1.04},{"x":1.285,"y":-0.165,"e":0.24},{"x":1.433,"y":-0.165,"e":-0.53},{"x":1.582,"y":-0.165,"e":-0.88},{"x":1.73,"y":-0.165,"e":-1.14},{"x":1.879,"y":-0.165,"e":-1.32},{"x":2.027,"y":-0.165,"e":-1.51},{"x":2.175,"y":-0.165,"e":-2.02},{"x":2.324,"y":-0.165,"e":-2.55},{"x":2.472,"y":-0.165,"e":-2.63},{"x":2.621,"y":-0.165,"e":-2.64},
{"x":0.394,"y":-0.135,"e":2.0},{"x":0.543,"y":-0.135,"e":2.0},{"x":0.691,"y":-0.135,"e":2.0},{"x":0.839,"y":-0.135,"e":1.94},{"x":0.988,"y":-0.135,"e":1.59},{"x":1.136,"y":-0.135,"e":1.2},{"x":1.285,"y":-0.135,"e":0.6},{"x":1.433,"y":-0.135,"e":-0.26},{"x":1.582,"y":-0.135,"e":-0.76},{"x":1.73,"y":-0.135,"e":-1.05},{"x":1.879,"y":-0.135,"e":-1.26},{"x":2.027,"y":-0.135,"e":-1.44},{"x":2.175,"y":-0.135,"e":-1.63},{"x":2.324,"y":-0.135,"e":-2.23},{"x":2.472,"y":-0.135,"e":-2.56},{"x":2.621,"y":-0.135,"e":-2.58},
{"x":0.394,"y":-0.105,"e":2.0},{"x":0.543,"y":-0.105,"e":2.0},{"x":0.691,"y":-0.105,"e":2.0},{"x":0.839,"y":-0.105,"e":1.99},{"x":0.988,"y":-0.105,"e":1.74},{"x":1.136,"y":-0.105,"e":1.33},{"x":1.285,"y":-0.105,"e":0.88},{"x":1.433,"y":-0.105,"e":0.01},{"x":1.582,"y":-0.105,"e":-0.65},{"x":1.73,"y":-0.105,"e":-0.96},{"x":1.879,"y":-0.105,"e":-1.2},{"x":2.027,"y":-0.105,"e":-1.38},{"x":2.175,"y":-0.105,"e":-1.57},{"x":2.324,"y":-0.105,"e":-1.81},{"x":2.472,"y":-0.105,"e":-2.39},{"x":2.621,"y":-0.105,"e":-2.52},
{"x":0.394,"y":-0.075,"e":2.0},{"x":0.543,"y":-0.075,"e":2.0},{"x":0.691,"y":-0.075,"e":2.0},{"x":0.839,"y":-0.075,"e":2.0},{"x":0.988,"y":-0.075,"e":1.86},{"x":1.136,"y":-0.075,"e":1.45},{"x":1.285,"y":-0.075,"e":1.07},{"x":1.433,"y":-0.075,"e":0.3},{"x":1.582,"y":-0.075,"e":-0.49},{"x":1.73,"y":-0.075,"e":-0.86},{"x":1.879,"y":-0.075,"e":-1.13},{"x":2.027,"y":-0.075,"e":-1.32},{"x":2.175,"y":-0.075,"e":-1.51},{"x":2.324,"y":-0.075,"e":-1.7},{"x":2.472,"y":-0.075,"e":-2.04},{"x":2.621,"y":-0.075,"e":-2.35},
{"x":0.394,"y":-0.045,"e":2.0},{"x":0.543,"y":-0.045,"e":2.0},{"x":0.691,"y":-0.045,"e":2.0},{"x":0.839,"y":-0.045,"e":2.0},{"x":0.988,"y":-0.045,"e":1.94},{"x":1.136,"y":-0.045,"e":1.59},{"x":1.285,"y":-0.045,"e":1.2},{"x":1.433,"y":-0.045,"e":0.6},{"x":1.582,"y":-0.045,"e":-0.26},{"x":1.73,"y":-0.045,"e":-0.76},{"x":1.879,"y":-0.045,"e":-1.05},{"x":2.027,"y":-0.045,"e":-1.26},{"x":2.175,"y":-0.045,"e":-1.44},{"x":2.324,"y":-0.045,"e":-1.63},{"x":2.472,"y":-0.045,"e":-1.85},{"x":2.621,"y":-0.045,"e":-2.1},
{"x":0.394,"y":-0.015,"e":2.0},{"x":0.543,"y":-0.015,"e":2.0},{"x":0.691,"y":-0.015,"e":2.0},{"x":0.839,"y":-0.015,"e":2.0},{"x":0.988,"y":-0.015,"e":1.99},{"x":1.136,"y":-0.015,"e":1.74},{"x":1.285,"y":-0.015,"e":1.33},{"x":1.433,"y":-0.015,"e":0.88},{"x":1.582,"y":-0.015,"e":0.01},{"x":1.73,"y":-0.015,"e":-0.65},{"x":1.879,"y":-0.015,"e":-0.96},{"x":2.027,"y":-0.015,"e":-1.19},{"x":2.175,"y":-0.015,"e":-1.38},{"x":2.324,"y":-0.015,"e":-1.56},{"x":2.472,"y":-0.015,"e":-1.75},{"x":2.621,"y":-0.015,"e":-1.95}
],
"cb":[{"v":-5.95},{"v":-5.85},{"v":-5.75},{"v":-5.65},{"v":-5.55},{"v":-5.45},{"v":-5.35},{"v":-5.25},{"v":-5.15},{"v":-5.05},{"v":-4.95},{"v":-4.85},{"v":-4.75},{"v":-4.65},{"v":-4.55},{"v":-4.45},{"v":-4.35},{"v":-4.25},{"v":-4.15},{"v":-4.05},{"v":-3.95},{"v":-3.85},{"v":-3.75},{"v":-3.65},{"v":-3.55},{"v":-3.45},{"v":-3.35},{"v":-3.25},{"v":-3.15},{"v":-3.05},{"v":-2.95},{"v":-2.85},{"v":-2.75},{"v":-2.65},{"v":-2.55},{"v":-2.45},{"v":-2.35},{"v":-2.25},{"v":-2.15},{"v":-2.05},{"v":-1.95},{"v":-1.85},{"v":-1.75},{"v":-1.65},{"v":-1.55},{"v":-1.45},{"v":-1.35},{"v":-1.25},{"v":-1.15},{"v":-1.05},{"v":-0.95},{"v":-0.85},{"v":-0.75},{"v":-0.65},{"v":-0.55},{"v":-0.45},{"v":-0.35},{"v":-0.25},{"v":-0.15},{"v":-0.05},{"v":0.05},{"v":0.15},{"v":0.25},{"v":0.35},{"v":0.45},{"v":0.55},{"v":0.65},{"v":0.75},{"v":0.85},{"v":0.95},{"v":1.05},{"v":1.15},{"v":1.25},{"v":1.35},{"v":1.45},{"v":1.55},{"v":1.65},{"v":1.75},{"v":1.85},{"v":1.95}]
},
"hconcat":[
{
"width":288,"height":307,
"encoding":{
"x":{"field":"x","type":"quantitative","scale":{"domain":[-6,-2],"nice":false,"zero":false},"axis":{"values":[-5,-3],"labelExpr":"datum.value == -5 ? '10⁻⁵' : '10⁻³'","title":"n₀Lg³","titleFontStyle":"italic"}},
"y":{"field":"y","type":"quantitative","scale":{"domain":[-0.9,0],"reverse":true,"nice":false,"zero":false},"axis":{"values":[-0.8,-0.6,-0.4,-0.2,0],"format":".1f","title":"a⁻¹Lg","titleFontStyle":"italic"}}
},
"layer":[
{"data":{"name":"ha"},"mark":{"type":"rect","width":19,"height":11,"clip":true},"encoding":{"color":{"field":"e","type":"quantitative","scale":{"scheme":"viridis","domain":[-6,2]},"legend":null}}},
{"data":{"values":[{"x":-6,"y":-0.426},{"x":-5.13,"y":-0.431},{"x":-4.2,"y":-0.441},{"x":-3.51,"y":-0.4525},{"x":-3.149,"y":-0.471}]},"mark":{"type":"line","color":"white","strokeWidth":2,"strokeDash":[2,3],"interpolate":"monotone","clip":true},"encoding":{}},
{"data":{"values":[{"x":-6,"y":-0.2175},{"x":-5.593,"y":-0.218},{"x":-5.222,"y":-0.2258},{"x":-4.944,"y":-0.2396},{"x":-4.667,"y":-0.261},{"x":-4.435,"y":-0.2845},{"x":-4.204,"y":-0.316},{"x":-3.972,"y":-0.35},{"x":-3.74,"y":-0.386},{"x":-3.51,"y":-0.423},{"x":-3.278,"y":-0.4555},{"x":-3.149,"y":-0.471}]},"mark":{"type":"line","color":"#ff0000","strokeWidth":3.5,"interpolate":"monotone","clip":true},"encoding":{}},
{"data":{"values":[{"x":-3.149,"y":-0.471}]},"mark":{"type":"point","shape":"square","size":64,"filled":true,"color":"#ff0000","opacity":1}},
{"data":{"values":[{"x":-2.528,"y":-0.531,"y2":-0.37}]},"mark":{"type":"rule","color":"black","strokeWidth":1.5},"encoding":{"y2":{"field":"y2"}}},
{"data":{"values":[{"x":-2.528,"y":-0.351}]},"mark":{"type":"point","shape":"M-0.55,-1L0.55,-1L0,1Z","size":324,"filled":true,"color":"black","opacity":1}},
{"data":{"values":[{"x":-5.746,"y":-0.847,"t":"(a)"}]},"mark":{"type":"text","font":"Liberation Serif","fontSize":20,"color":"white"},"encoding":{"text":{"field":"t"}}},
{"data":{"values":[{"x":-3.806,"y":-0.719,"t":"polaron"},{"x":-5.014,"y":-0.358,"t":"metastable"}]},"mark":{"type":"text","font":"DejaVu Sans","fontSize":19,"color":"white","opacity":0.88},"encoding":{"text":{"field":"t"}}},
{"data":{"values":[{"x":-2.667,"y":-0.59,"t":"crossover"},{"x":-3.847,"y":-0.0684,"t":"cluster"}]},"mark":{"type":"text","font":"DejaVu Sans","fontSize":19,"color":"#111111"},"encoding":{"text":{"field":"t"}}},
{"data":{"values":[{"x":-4.574,"y":-0.1965,"t":"instability"}]},"mark":{"type":"text","font":"DejaVu Sans","fontSize":19,"color":"#ff0000"},"encoding":{"text":{"field":"t"}}}
]
},
{
"width":283,"height":307,
"encoding":{
"x":{"field":"x","type":"quantitative","scale":{"domain":[0.321,2.695],"nice":false,"zero":false},"axis":{"values":[0.5,1,1.5,2,2.5],"format":".1f","title":"aBLg⁻¹","titleFontStyle":"italic"}},
"y":{"field":"y","type":"quantitative","scale":{"domain":[-0.9,0],"reverse":true,"nice":false,"zero":false},"axis":{"values":[-0.8,-0.6,-0.4,-0.2,0],"labels":false,"title":null}}
},
"layer":[
{"data":{"name":"hb"},"mark":{"type":"rect","width":18.5,"height":11,"clip":true},"encoding":{"color":{"field":"e","type":"quantitative","scale":{"scheme":"viridis","domain":[-6,2]},"legend":null}}},
{"data":{"values":[{"x":0.549,"y":-0.9},{"x":0.695,"y":-0.746},{"x":0.834,"y":-0.6285},{"x":0.974,"y":-0.531},{"x":1.114,"y":-0.4526},{"x":1.254,"y":-0.394},{"x":1.394,"y":-0.345},{"x":1.534,"y":-0.306},{"x":1.673,"y":-0.267},{"x":1.836,"y":-0.221}]},"mark":{"type":"line","color":"white","strokeWidth":2,"strokeDash":[2,3],"interpolate":"monotone","clip":true},"encoding":{}},
{"data":{"values":[{"x":0.321,"y":-0.3276},{"x":0.695,"y":-0.316},{"x":0.974,"y":-0.301},{"x":1.254,"y":-0.2816},{"x":1.534,"y":-0.257},{"x":1.702,"y":-0.2376},{"x":1.836,"y":-0.221}]},"mark":{"type":"line","color":"#ff0000","strokeWidth":3.5,"interpolate":"monotone","clip":true},"encoding":{}},
{"data":{"values":[{"x":1.836,"y":-0.221}]},"mark":{"type":"point","shape":"square","size":64,"filled":true,"color":"#ff0000","opacity":1}},
{"data":{"values":[{"x":2.294,"y":-0.2425,"y2":-0.11}]},"mark":{"type":"rule","color":"white","strokeWidth":2},"encoding":{"y2":{"field":"y2"}}},
{"data":{"values":[{"x":2.294,"y":-0.0933}]},"mark":{"type":"point","shape":"M-0.55,-1L0.55,-1L0,1Z","size":324,"filled":true,"color":"white","opacity":1}},
{"data":{"values":[{"x":0.45,"y":-0.847,"t":"(b)"}]},"mark":{"type":"text","font":"Liberation Serif","fontSize":20,"color":"white"},"encoding":{"text":{"field":"t"}}},
{"data":{"values":[{"x":1.6036,"y":-0.719,"t":"polaron"},{"x":0.8066,"y":-0.387,"t":"metastable"},{"x":2.255,"y":-0.287,"t":"crossover"}]},"mark":{"type":"text","font":"DejaVu Sans","fontSize":19,"color":"white","opacity":0.9},"encoding":{"text":{"field":"t"}}},
{"data":{"values":[{"x":1.077,"y":-0.0684,"t":"cluster"}]},"mark":{"type":"text","font":"DejaVu Sans","fontSize":19,"color":"#111111"},"encoding":{"text":{"field":"t"}}},
{"data":{"values":[{"x":0.875,"y":-0.2396,"t":"instability"}]},"mark":{"type":"text","font":"DejaVu Sans","fontSize":19,"color":"#ff0000"},"encoding":{"text":{"field":"t"}}}
]
},
{
"width":16,"height":307,
"data":{"name":"cb"},
"mark":{"type":"rect","height":4.4,"clip":true},
"encoding":{
"y":{"field":"v","type":"quantitative","scale":{"domain":[-6,2],"nice":false,"zero":false},"axis":{"orient":"right","values":[-6,-4,-2,0,2],"labelExpr":"datum.value == 2 ? '10²' : datum.value == 0 ? '10⁰' : datum.value == -2 ? '10⁻²' : datum.value == -4 ? '10⁻⁴' : '10⁻⁶'","tickSize":9,"labelPadding":13,"title":"−Energy (M⁻¹Lg⁻²)","titleAngle":270,"titleBaseline":"top","titlePadding":9}},
"color":{"field":"v","type":"quantitative","scale":{"scheme":"viridis","domain":[-6,2]},"legend":null}
}
}
],
"spacing":16,
"resolve":{"scale":{"color":"shared"}}
}
